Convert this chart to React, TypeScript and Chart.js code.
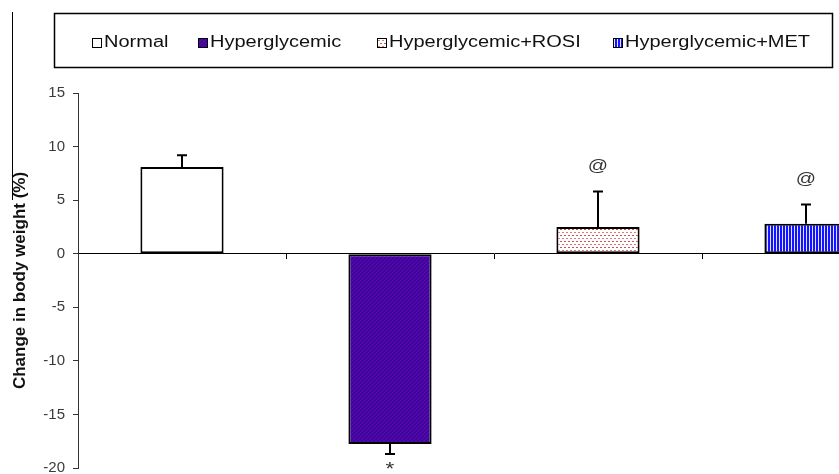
import React, { useEffect, useRef } from "react";
import { Chart, registerables } from "chart.js";

Chart.register(...registerables);

const categories = ["Normal", "Hyperglycemic", "Hyperglycemic+ROSI", "Hyperglycemic+MET"];
const means = [8.1, -17.75, 2.5, 2.8];
const errors = [1.1, 0.95, 3.3, 1.8];
const marks = ["", "*", "@", "@"];
const yMin = -20;
const yMax = 15;
const yStep = 5;
const yTitle = "Change in body weight (%)";

const FONT = "'Liberation Sans', Arial, sans-serif";
const STRETCH = 1.25;

function makePattern(w: number, h: number, draw: (g: CanvasRenderingContext2D) => void) {
  const c = document.createElement("canvas");
  c.width = w;
  c.height = h;
  const g = c.getContext("2d")!;
  draw(g);
  const tmp = document.createElement("canvas").getContext("2d")!;
  return tmp.createPattern(c, "repeat")!;
}

function buildFills() {
  const normal = "#ffffff";
  const hyper = makePattern(4, 4, (g) => {
    const cols = ["#a0002a", "#3a08c0", "#2208cc", "#2208cc"];
    for (let x = 0; x < 4; x++)
      for (let y = 0; y < 4; y++) {
        g.fillStyle = cols[(x + y) % 4];
        g.fillRect(x, y, 1, 1);
      }
  });
  const rosi = makePattern(4, 6, (g) => {
    g.fillStyle = "#ffffff";
    g.fillRect(0, 0, 4, 6);
    g.fillStyle = "rgba(200,50,50,0.85)";
    g.fillRect(0, 1, 2, 1);
    g.fillStyle = "rgba(200,50,50,0.65)";
    g.fillRect(2, 4, 2, 1);
  });
  const met = makePattern(3, 1, (g) => {
    g.fillStyle = "#1414ff";
    g.fillRect(0, 0, 2, 1);
    g.fillStyle = "#dfe3ff";
    g.fillRect(2, 0, 1, 1);
  });
  return [normal, hyper, rosi, met];
}

function stretchedText(ctx: CanvasRenderingContext2D, t: string, x: number, y: number, align: CanvasTextAlign) {
  ctx.save();
  ctx.translate(x, y);
  ctx.scale(STRETCH, 1);
  ctx.textAlign = align;
  ctx.fillText(t, 0, 0);
  ctx.restore();
}

const legendX = [92, 198, 377, 613];

const boxLegendPlugin = {
  id: "boxLegend",
  afterDraw(chart: any) {
    const ctx: CanvasRenderingContext2D = chart.ctx;
    const fills = chart.data.datasets[0].backgroundColor;
    ctx.save();
    // frame artifact line at far left
    ctx.strokeStyle = "#000";
    ctx.lineWidth = 1;
    ctx.beginPath();
    ctx.moveTo(12.5, 12);
    ctx.lineTo(12.5, 200);
    ctx.stroke();
    // legend box
    ctx.lineWidth = 1.5;
    ctx.strokeStyle = "#000";
    ctx.strokeRect(54.5, 13.5, 778, 54);
    ctx.font = `16px ${FONT}`;
    ctx.textBaseline = "middle";
    chart.data.labels.forEach((lab: string, i: number) => {
      const x = legendX[i];
      ctx.fillStyle = fills[i];
      ctx.fillRect(x, 38, 9, 9);
      ctx.lineWidth = 1;
      ctx.strokeStyle = "#000";
      ctx.strokeRect(x + 0.5, 38.5, 9, 9);
      ctx.fillStyle = "#111";
      stretchedText(ctx, lab, x + 12, 43, "left");
    });
    ctx.restore();
  },
};

const errorPlugin = {
  id: "errorBars",
  afterDatasetsDraw(chart: any) {
    const ctx: CanvasRenderingContext2D = chart.ctx;
    const meta = chart.getDatasetMeta(0);
    const ys = chart.scales.y;
    ctx.save();
    ctx.strokeStyle = "#000";
    ctx.lineWidth = 2;
    meta.data.forEach((bar: any, i: number) => {
      const v = means[i];
      const sign = v >= 0 ? 1 : -1;
      const yEnd = ys.getPixelForValue(v + sign * errors[i]);
      ctx.beginPath();
      ctx.moveTo(bar.x, bar.y);
      ctx.lineTo(bar.x, yEnd);
      ctx.moveTo(bar.x - 5, yEnd);
      ctx.lineTo(bar.x + 5, yEnd);
      ctx.stroke();
      if (marks[i]) {
        ctx.fillStyle = "#333";
        ctx.font = `${marks[i] === "*" ? 18 : 16}px ${FONT}`;
        ctx.textBaseline = "middle";
        const ty = sign > 0 ? yEnd - 25 : yEnd + 16;
        stretchedText(ctx, marks[i], bar.x, ty, "center");
      }
    });
    ctx.restore();
  },
};

export default function App() {
  const ref = useRef<HTMLCanvasElement>(null);
  useEffect(() => {
    if (!ref.current) return;
    const fills = buildFills();
    const chart = new Chart(ref.current, {
      type: "bar",
      data: {
        labels: categories,
        datasets: [
          {
            data: means,
            backgroundColor: fills as any,
            borderColor: "#000",
            borderWidth: 2,
            borderSkipped: false,
            barPercentage: 0.4,
            categoryPercentage: 1,
          },
        ],
      },
      options: {
        animation: false,
        responsive: false,
        devicePixelRatio: 1,
        layout: { padding: { left: 0, right: 10, top: 93, bottom: 22 } },
        plugins: { legend: { display: false }, tooltip: { enabled: false } },
        scales: {
          x: {
            position: { y: 0 } as any,
            offset: true,
            ticks: { display: false },
            grid: { drawOnChartArea: false, drawTicks: true, tickLength: 5, color: "#000", offset: true },
            border: { display: true, color: "#000", width: 1 },
          },
          y: {
            min: yMin,
            max: yMax,
            ticks: {
              stepSize: yStep,
              color: "#3a3a3a",
              padding: 8,
              font: { family: FONT, size: 15 },
            },
            grid: { drawOnChartArea: false, drawTicks: true, tickLength: 5, color: "#333" },
            border: { display: true, color: "#333", width: 1 },
            title: {
              display: true,
              text: yTitle,
              color: "#111",
              font: { family: FONT, size: 17, weight: "bold" },
              padding: { top: 10, bottom: 0 },
            },
            afterFit(scale: any) {
              scale.width = 78;
            },
          },
        },
      },
      plugins: [errorPlugin, boxLegendPlugin],
    });
    return () => chart.destroy();
  }, []);
  return (
    <div
      style={{
        position: "fixed",
        left: 0,
        top: 0,
        width: 839,
        height: 474,
        overflow: "hidden",
        background: "#fff",
      }}
    >
      <canvas ref={ref} width={920} height={490} style={{ display: "block", width: 920, height: 490 }} />
    </div>
  );
}
